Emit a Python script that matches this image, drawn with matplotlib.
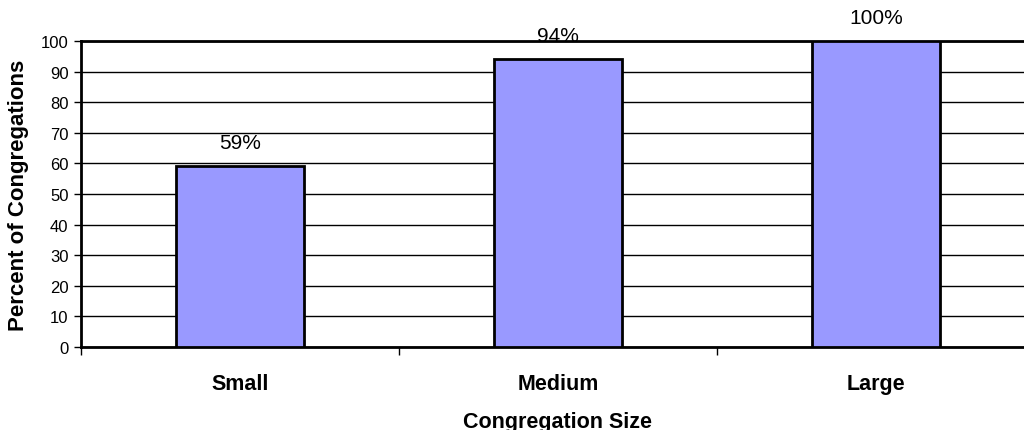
import matplotlib.pyplot as plt
import numpy as np

plt.rcParams['font.family'] = ['Liberation Sans', 'DejaVu Sans']

# datos del grafico
categorias = ["Small", "Medium", "Large"]
porcentajes = [59, 94, 100]
etiquetas = ["59%", "94%", "100%"]

fig = plt.figure(figsize=(10.24, 4.31), dpi=100)
ax = fig.add_axes([0.0791, 0.1926, 0.9316, 0.71])

x = np.arange(len(categorias)) + 0.5
barras = ax.bar(x, porcentajes, width=0.4, color="#9999FF",
                edgecolor="black", linewidth=2, zorder=3)

for b, txt in zip(barras, etiquetas):
    ax.annotate(txt, (b.get_x() + b.get_width() / 2, b.get_height()),
                xytext=(0, 17), textcoords="offset points",
                ha="center", va="center", fontsize=15, zorder=4)

ax.set_xlim(0, 3)
ax.set_ylim(0, 100)
ax.set_yticks(range(0, 101, 10))
ax.tick_params(axis="y", labelsize=12, length=5, width=1, direction="out", pad=4)

# las marcas del eje x van en los limites entre categorias
ax.set_xticks([0, 1, 2, 3])
ax.set_xticklabels([])
ax.set_xticks(x, minor=True)
ax.set_xticklabels(categorias, minor=True, fontsize=15.5, fontweight="bold")
ax.tick_params(axis="x", which="major", length=6, width=1, direction="out")
ax.tick_params(axis="x", which="minor", length=0, pad=19)

ax.grid(axis="y", color="black", linewidth=1, zorder=0)

for lado in ("left", "bottom", "top"):
    ax.spines[lado].set_linewidth(2)
ax.spines["right"].set_visible(False)

ax.set_ylabel("Percent of Congregations", fontsize=16, fontweight="bold", va="center")
ax.yaxis.set_label_coords(-0.0655, 0.5)
ax.set_xlabel("Congregation Size", fontsize=15.5, fontweight="bold", va="center")
ax.xaxis.set_label_coords(0.5, -0.242)

fig.savefig("out.png", dpi=100)
